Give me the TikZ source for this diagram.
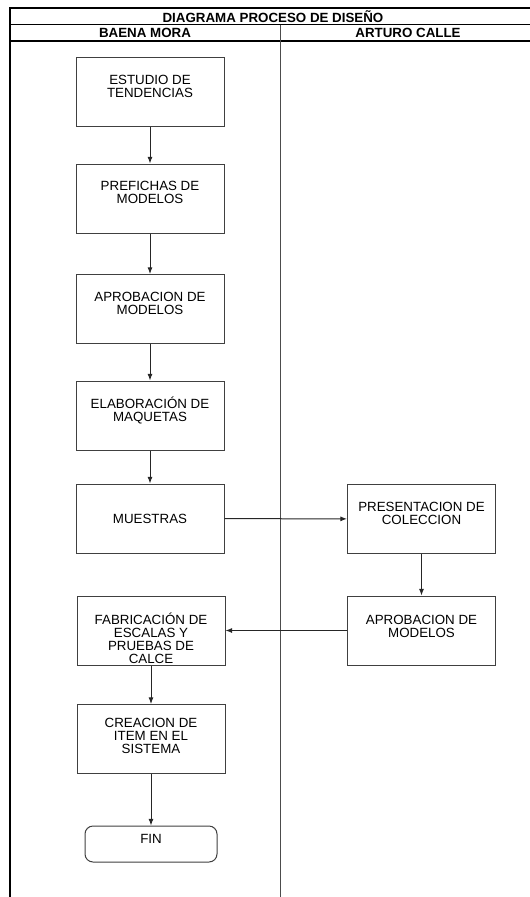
\documentclass[tikz,border=0pt]{standalone}
\usepackage{fontspec}
\setmainfont{Liberation Sans}
\usetikzlibrary{arrows.meta}

\tikzset{every picture/.style={line width=0.75pt}}
\tikzset{
  proceso/.style={draw=black!75, fill=white, line width=0.75pt, minimum width=111pt, minimum height=51.75pt, inner sep=0.75pt},
  terminal/.style={proceso, rounded corners=6pt, minimum width=99pt, minimum height=27pt},
  texto/.style={inner sep=0.75pt, align=center, font=\fontsize{10}{9.8}\selectfont},
  titulo/.style={inner sep=0.75pt, font=\fontsize{10}{10}\selectfont\bfseries},
  flecha/.style={draw=black!85, line width=0.75pt, -{Latex[length=5pt,width=3.8pt]}}
}

\begin{document}
\begin{tikzpicture}[x=0.75pt,y=0.75pt,yscale=-1,xscale=1]
        \useasboundingbox (0,0) rectangle (530,897);
        \clip (0,0) rectangle (530,897);

        %Shape: Frame
        \draw [line width=1.1pt] (10,8) rectangle (536,905) ;
        %Straight Lines
        \draw [line width=0.9pt]   (10,24.5) -- (536,24.5) ;
        \draw [line width=0.9pt]   (10,41) -- (536,41) ;
        %Straight Lines (lane divider)
        \draw [draw=black!70]   (280,24.5) -- (280,905) ;

        % Text Node
        \node [titulo] (diagrama) at (273,16.5) {DIAGRAMA PROCESO DE DISEÑO};
        \node [titulo] (baena) at (145,32.5) {BAENA MORA};
        \node [titulo] (arturo) at (408,32.5) {ARTURO CALLE};

        %Shape: Rectangle
        \node [proceso, label={[texto,yshift=4pt]center:{ESTUDIO DE\\TENDENCIAS}}] (estudio) at (150,92) {};
        \node [proceso, label={[texto,yshift=4.5pt]center:{PREFICHAS DE\\MODELOS}}] (prefichas) at (150,198.5) {};
        \node [proceso, label={[texto,yshift=4pt]center:{APROBACION DE\\MODELOS}}] (aprobacion) at (150,309) {};
        \node [proceso, label={[texto,yshift=4pt]center:{ELABORACIÓN DE\\MAQUETAS}}] (elaboracion) at (150,415.5) {};
        \node [proceso, label={[texto]center:{MUESTRAS}}] (muestras) at (150,518.5) {};
        \node [proceso, label={[texto,yshift=-6pt]center:{FABRICACIÓN DE\\ESCALAS Y\\PRUEBAS DE\\CALCE}}] (fabricacion) at (151,630.5) {};
        \node [proceso, label={[texto,yshift=2pt]center:{CREACION DE\\ITEM EN EL\\SISTEMA}}] (creacion) at (151,739) {};
        \node [terminal, label={[texto,yshift=4pt]center:{FIN}}] (fin) at (151,844) {};
        \node [proceso, label={[texto,yshift=4pt]center:{PRESENTACION DE\\COLECCION}}] (presentacion) at (421.5,519) {};
        \node [proceso, label={[texto,yshift=3pt]center:{APROBACION DE\\MODELOS}}] (aprobacionac) at (421.5,630.5) {};

        %Straight Lines
        \draw [flecha] (estudio) -- (prefichas) ;
        \draw [flecha] (prefichas) -- (aprobacion) ;
        \draw [flecha] (aprobacion) -- (elaboracion) ;
        \draw [flecha] (elaboracion) -- (muestras) ;
        \draw [flecha] (muestras) -- (presentacion) ;
        \draw [flecha] (presentacion) -- (aprobacionac) ;
        \draw [flecha] (aprobacionac) -- (fabricacion) ;
        \draw [flecha] (fabricacion) -- (creacion) ;
        \draw [flecha] (creacion) -- (fin) ;

\end{tikzpicture}
\end{document}
